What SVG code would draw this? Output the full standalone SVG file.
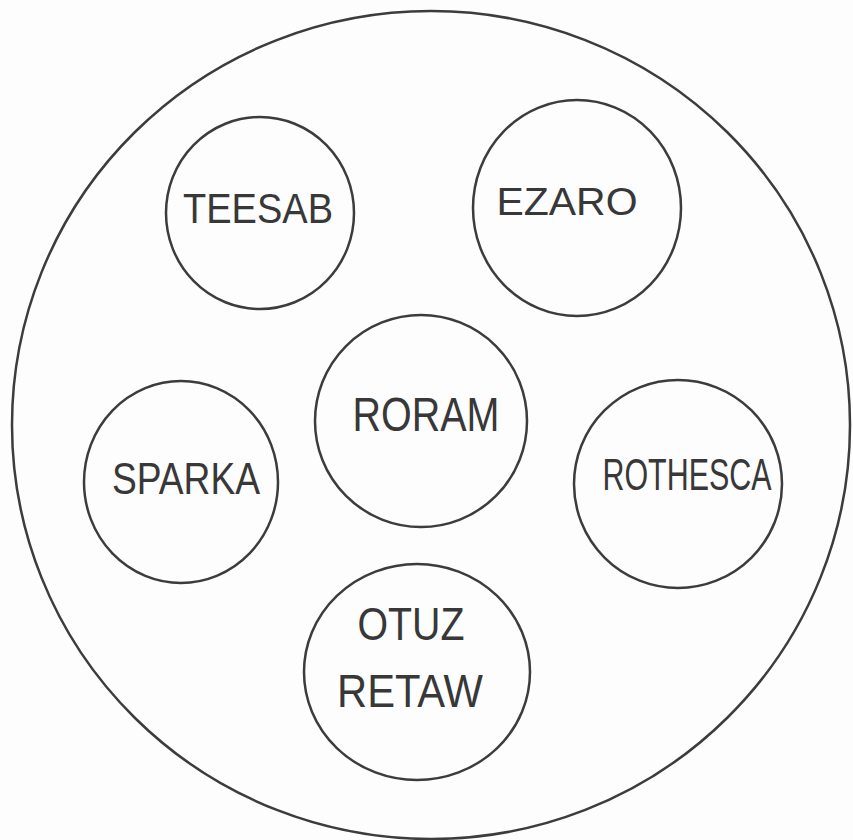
<svg xmlns="http://www.w3.org/2000/svg" width="853" height="840" viewBox="0 0 853 840">
<style>
.ring{fill:none;stroke:#3c3c3c;stroke-width:2.5}
.lbl{font-family:"Liberation Sans","DejaVu Sans",sans-serif;fill:#383838;text-anchor:middle}
</style>
<rect width="853" height="840" fill="#fdfdfd"/>
<g id="outer"><ellipse class="ring" cx="431" cy="425" rx="419" ry="414"/></g>
<g id="teesab"><ellipse class="ring" cx="260" cy="213" rx="94" ry="96"/><text class="lbl" x="258" y="223" font-size="42" textLength="150" lengthAdjust="spacingAndGlyphs">TEESAB</text></g>
<g id="ezaro"><ellipse class="ring" cx="577" cy="208" rx="104" ry="108"/><text class="lbl" x="567" y="215" font-size="39" textLength="141" lengthAdjust="spacingAndGlyphs">EZARO</text></g>
<g id="roram"><ellipse class="ring" cx="421" cy="421" rx="106" ry="106"/><text class="lbl" x="426" y="431" font-size="48" textLength="147" lengthAdjust="spacingAndGlyphs">RORAM</text></g>
<g id="sparka"><ellipse class="ring" cx="181" cy="482" rx="97" ry="101"/><text class="lbl" x="186" y="494" font-size="44" textLength="148" lengthAdjust="spacingAndGlyphs">SPARKA</text></g>
<g id="rothesca"><ellipse class="ring" cx="678" cy="484" rx="104" ry="104"/><text class="lbl" x="687" y="490" font-size="44" textLength="169" lengthAdjust="spacingAndGlyphs">ROTHESCA</text></g>
<g id="otuz-retaw"><ellipse class="ring" cx="417" cy="672" rx="113" ry="108"/><text class="lbl" x="411" y="640" font-size="46" textLength="107" lengthAdjust="spacingAndGlyphs">OTUZ</text><text class="lbl" x="410" y="707" font-size="47" textLength="146" lengthAdjust="spacingAndGlyphs">RETAW</text></g>
<g id="connectors"/>
</svg>
